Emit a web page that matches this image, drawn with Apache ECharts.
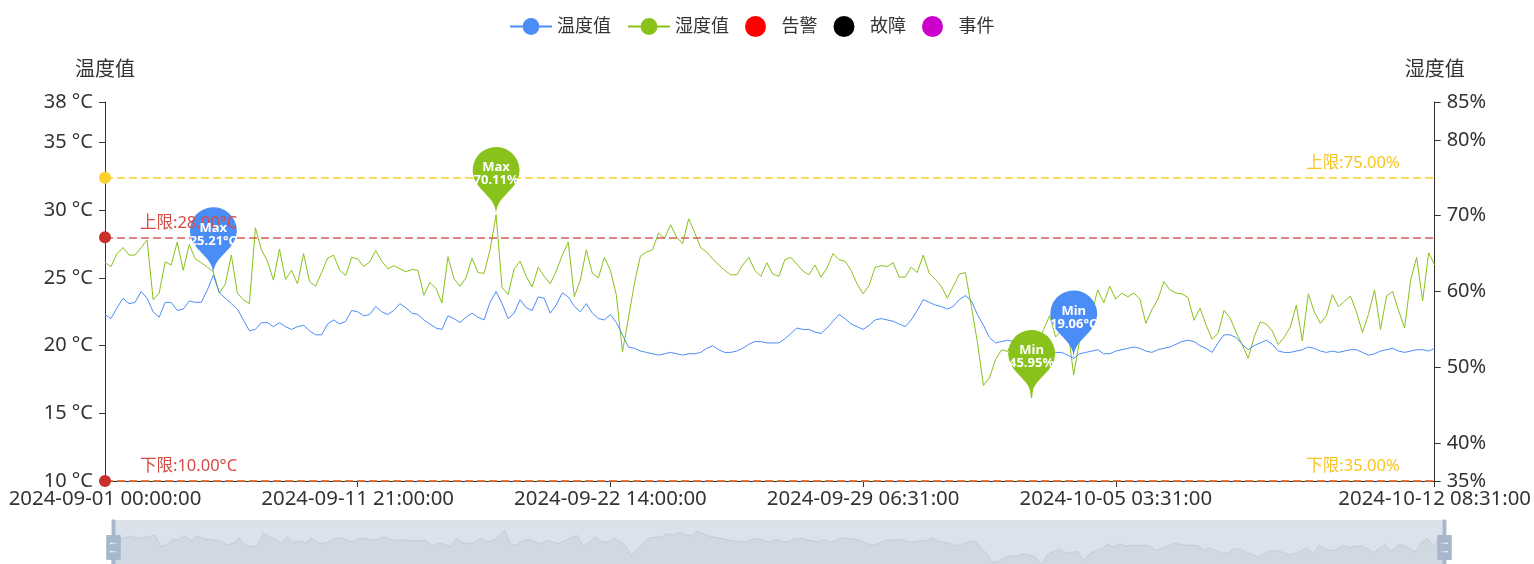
<!DOCTYPE html>
<html>
<head>
<meta charset="utf-8">
<script src="https://cdn.jsdelivr.net/npm/echarts/dist/echarts.min.js"></script>
<style>html,body{margin:0;padding:0;background:#fff}#c{width:1534px;height:564px}</style>
</head>
<body>
<div id="c"></div>
<script>
// x positions (sample index) of the labelled ticks and their labels
const xTickIndex = [0, 42, 84, 126, 168, 221];
const xTickLabels = ['2024-09-01 00:00:00', '2024-09-11 21:00:00', '2024-09-22 14:00:00', '2024-09-29 06:31:00', '2024-10-05 03:31:00', '2024-10-12 08:31:00'];
const tempTicks = [10, 15, 20, 25, 30, 35, 38];
const humTicks = [35, 40, 50, 60, 70, 80, 85];
const legendNames = ['温度值', '湿度值', '告警', '故障', '事件'];
const tempLimits = [28, 10];
const humLimits = [75, 35];

const temperature = [
22.3,22.0,22.8,23.5,23.1,23.2,24.0,23.5,22.5,22.1,
23.2,23.2,22.6,22.7,23.3,23.2,23.2,24.1,25.21,23.9,
23.5,23.1,22.7,21.9,21.1,21.2,21.7,21.7,21.4,21.7,
21.4,21.2,21.4,21.5,21.1,20.8,20.8,21.6,21.9,21.6,
21.8,22.6,22.5,22.2,22.3,22.9,22.5,22.3,22.6,23.1,
22.8,22.4,22.3,21.9,21.6,21.3,21.2,22.2,22.0,21.7,
22.1,22.4,22.1,21.9,23.2,24.0,23.1,22.0,22.4,23.4,
22.8,22.6,23.6,23.5,22.4,23.0,23.9,23.6,22.9,22.5,
23.1,22.4,22.0,21.9,22.3,21.7,20.8,19.9,19.8,19.6,
19.5,19.4,19.3,19.4,19.5,19.4,19.3,19.4,19.4,19.5,
19.8,20.0,19.7,19.5,19.5,19.6,19.8,20.1,20.3,20.3,
20.2,20.2,20.2,20.5,20.9,21.3,21.2,21.2,21.0,20.9,
21.3,21.8,22.3,22.0,21.6,21.4,21.2,21.5,21.9,22.0,
21.9,21.8,21.6,21.4,21.9,22.6,23.4,23.2,23.0,22.9,
22.7,22.9,23.4,23.7,23.3,22.3,21.5,20.6,20.2,20.3,
20.4,20.3,20.2,20.0,20.0,19.9,19.8,19.6,19.5,19.5,
19.3,19.06,19.4,19.5,19.6,19.7,19.4,19.4,19.6,19.7,
19.8,19.9,19.8,19.6,19.5,19.7,19.8,19.9,20.1,20.3,
20.4,20.3,20.0,19.8,19.5,20.2,20.8,20.8,20.6,20.1,
19.7,20.0,20.2,20.4,20.1,19.6,19.5,19.5,19.6,19.7,
19.9,19.8,19.6,19.5,19.6,19.5,19.6,19.7,19.7,19.5,
19.3,19.4,19.6,19.7,19.8,19.6,19.5,19.6,19.7,19.7,
19.6,19.8
];

const humidity = [
63.8,63.3,65.0,65.8,64.8,64.8,65.8,66.8,58.9,59.8,
63.9,63.5,66.5,62.8,66.2,64.3,63.8,63.2,62.6,59.8,
61.0,64.8,59.8,58.9,58.4,68.4,65.5,64.0,61.5,65.6,
61.6,62.8,61.0,65.0,61.3,60.7,62.5,64.4,64.8,62.8,
62.1,64.5,64.3,63.3,63.9,65.4,64.0,63.0,63.4,63.0,
62.6,62.9,62.8,59.5,61.2,60.4,58.5,64.6,61.7,60.7,
61.8,64.4,62.5,62.4,65.5,70.11,60.5,59.6,63.0,64.0,
62.0,60.6,63.2,62.0,61.0,62.7,64.8,66.5,59.3,61.5,
65.5,62.4,61.8,64.5,62.8,59.5,52.0,56.5,61.1,64.7,
65.2,65.5,67.7,67.0,68.8,67.2,66.3,69.6,67.8,65.8,
65.2,64.3,63.5,62.8,62.2,62.2,63.5,64.5,62.8,62.0,
63.8,62.3,62.0,64.2,64.5,63.6,62.7,62.2,63.5,61.9,
63.1,65.0,64.2,64.0,62.8,61.0,59.7,60.8,63.2,63.4,
63.3,63.8,61.9,61.9,63.2,62.5,64.8,62.4,61.6,60.7,
59.1,60.7,62.3,62.5,58.0,53.3,47.6,48.6,51.0,52.3,
52.1,53.6,52.8,51.5,45.95,53.0,55.0,56.8,54.0,54.9,
55.2,49.0,53.6,55.6,57.2,60.2,58.5,60.7,59.0,59.8,
59.3,59.8,59.0,55.8,57.6,59.0,61.3,60.2,59.8,59.7,
59.2,56.2,57.8,55.6,53.7,54.5,57.5,56.5,54.6,53.0,
51.2,54.0,56.0,55.7,54.8,53.0,54.0,55.3,58.2,53.5,
59.7,57.3,55.8,56.8,59.6,58.0,58.7,59.4,57.3,54.6,
57.0,60.2,55.0,59.4,60.0,57.5,55.2,61.5,64.5,58.8,
65.1,63.5
];

const BLUE = '#4b8df7';
const GREEN = '#88c21a';
const RED = '#c9302c';
const RED_LINE = 'rgba(206,52,47,0.6)';
const YELLOW = '#fcd12a';
const YELLOW_LINE = 'rgba(252,209,42,0.75)';
const FONT = "'Noto Sans', 'Noto Sans CJK SC', sans-serif";
const N = temperature.length;

const limitDot = (y, color) => ({ coord: [0, y], symbol: 'circle', symbolSize: 12, itemStyle: { color: color }, label: { show: false } });

const chart = echarts.init(document.getElementById('c'));
chart.setOption({
  animation: false,
  backgroundColor: '#fff',
  textStyle: { fontFamily: FONT },
  legend: {
    data: legendNames,
    top: 11,
    left: 504,
    itemWidth: 42,
    itemHeight: 21,
    itemGap: 16,
    textStyle: { fontSize: 18, color: '#333', fontFamily: FONT }
  },
  grid: { left: 105, right: 94, top: 102, bottom: 83, containLabel: false },
  xAxis: {
    type: 'value', min: 0, max: N - 1,
    axisLine: { lineStyle: { color: '#333' } },
    axisTick: { show: true, customValues: xTickIndex, length: 6, lineStyle: { color: '#333' } },
    axisLabel: {
      customValues: xTickIndex, fontSize: 20.4, color: '#333', margin: 8,
      formatter: v => xTickLabels[xTickIndex.indexOf(v)] || ''
    },
    splitLine: { show: false }
  },
  yAxis: [
    {
      type: 'value', min: 10, max: 38, position: 'left',
      name: '温度值', nameGap: 22, nameTextStyle: { fontSize: 20, color: '#333' },
      axisLine: { show: true, lineStyle: { color: '#333' } },
      axisTick: { show: true, customValues: tempTicks, length: 6, lineStyle: { color: '#333' } },
      axisLabel: { customValues: tempTicks, formatter: '{value} °C', fontSize: 20, color: '#333', margin: 12 },
      splitLine: { show: false }
    },
    {
      type: 'value', min: 35, max: 85, position: 'right',
      name: '湿度值', nameGap: 22, nameTextStyle: { fontSize: 20, color: '#333' },
      axisLine: { show: true, lineStyle: { color: '#333' } },
      axisTick: { show: true, customValues: humTicks, length: 6, lineStyle: { color: '#333' } },
      axisLabel: { customValues: humTicks, formatter: '{value}%', fontSize: 20, color: '#333', margin: 12 },
      splitLine: { show: false }
    }
  ],
  dataZoom: [{
    type: 'slider', xAxisIndex: 0, start: 0, end: 100,
    left: 110, right: 91, top: 520, height: 55,
    showDetail: false, brushSelect: false, moveHandleSize: 0,
    borderColor: '#ddd', backgroundColor: 'rgba(47,69,84,0)',
    fillerColor: 'rgba(167,183,204,0.4)',
    handleIcon: 'M8.2,13.6V3.9H6.3v9.7H3.1v14.9h3.3v9.7h1.8v-9.7h3.3V13.6H8.2z M9.7,24.4H4.8v-1.4h4.9V24.4z M9.7,19.1H4.8v-1.4h4.9V19.1z',
    handleSize: '100%',
    handleStyle: { color: '#a7b7cc', borderColor: '#a7b7cc' },
    dataBackground: { lineStyle: { color: '#2f4554', width: 0.5, opacity: 0.3 }, areaStyle: { color: 'rgba(47,69,84,0.3)', opacity: 0.3 } },
    selectedDataBackground: { lineStyle: { color: '#2f4554', width: 0.5, opacity: 0.3 }, areaStyle: { color: 'rgba(47,69,84,0.3)', opacity: 0.3 } }
  }],
  series: [
    {
      name: '湿度值', type: 'line', yAxisIndex: 1, z: 2,
      data: humidity.map((v, i) => [i, v]),
      symbol: 'circle', showSymbol: false,
      lineStyle: { width: 1, color: GREEN }, itemStyle: { color: GREEN },
      markPoint: {
        symbol: 'pin', symbolSize: 78,
        data: [{ type: 'max', name: 'Max' }, { type: 'min', name: 'Min' }, limitDot(humLimits[0], YELLOW)],
        label: { color: '#fff', fontSize: 13, fontWeight: 'bold', formatter: p => p.name + '\n' + Number(p.value).toFixed(2) + '%' }
      },
      markLine: {
        silent: true, symbol: ['none', 'none'],
        data: [{ yAxis: humLimits[0], name: '上限' }, { yAxis: humLimits[1], name: '下限' }],
        lineStyle: { color: YELLOW_LINE, type: 'dashed', width: 2 },
        label: { position: 'insideEndTop', distance: [35, 6], color: '#f8c520', fontSize: 16.5, formatter: p => p.name + ':' + Number(p.value).toFixed(2) + '%' }
      }
    },
    {
      name: '温度值', type: 'line', yAxisIndex: 0, z: 3,
      data: temperature.map((v, i) => [i, v]),
      symbol: 'circle', showSymbol: false,
      lineStyle: { width: 1, color: BLUE }, itemStyle: { color: BLUE },
      markPoint: {
        symbol: 'pin', symbolSize: 78,
        data: [{ type: 'max', name: 'Max' }, { type: 'min', name: 'Min' }, limitDot(tempLimits[0], RED), limitDot(tempLimits[1], RED)],
        label: { color: '#fff', fontSize: 13, fontWeight: 'bold', formatter: p => p.name + '\n' + Number(p.value).toFixed(2) + '°C' }
      },
      markLine: {
        silent: true, symbol: ['none', 'none'],
        data: [{ yAxis: tempLimits[0], name: '上限' }, { yAxis: tempLimits[1], name: '下限' }],
        lineStyle: { color: RED_LINE, type: 'dashed', width: 2 },
        label: { position: 'insideStartTop', distance: [35, 6], color: '#d84a45', fontSize: 16.5, formatter: p => p.name + ':' + Number(p.value).toFixed(2) + '°C' }
      }
    },
    { name: '告警', type: 'scatter', data: [], itemStyle: { color: '#ff0000', opacity: 1 } },
    { name: '故障', type: 'scatter', data: [], itemStyle: { color: '#000000', opacity: 1 } },
    { name: '事件', type: 'scatter', data: [], itemStyle: { color: '#cc00cc', opacity: 1 } }
  ]
});
</script>
</body>
</html>
